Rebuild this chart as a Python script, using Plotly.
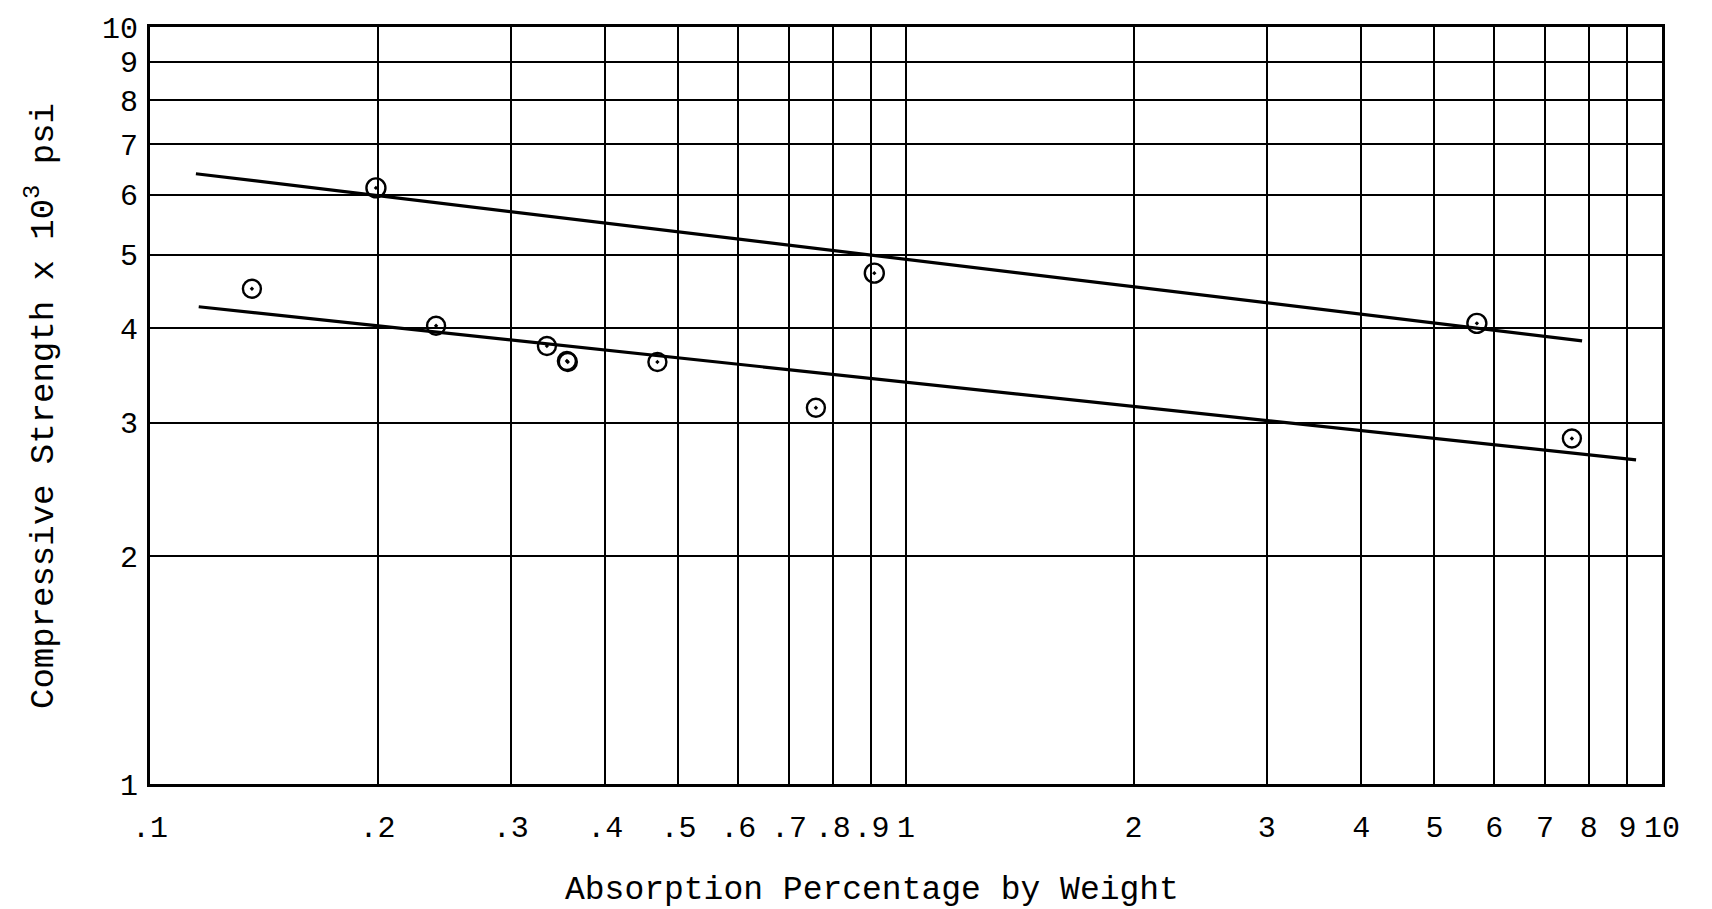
import plotly.graph_objects as go

# Data (log-log)
upper_x = [0.199, 0.908, 5.69]
upper_y = [6.13, 4.73, 4.06]
lower_x = [0.1364, 0.239, 0.335, 0.356, 0.357, 0.469, 0.760, 7.60]
lower_y = [4.51, 4.03, 3.79, 3.62, 3.61, 3.61, 3.14, 2.86]

upper_fit_x = [0.115, 7.84]
upper_fit_y = [6.40, 3.85]
lower_fit_x = [0.116, 9.24]
lower_fit_y = [4.27, 2.68]

x_tickvals = [0.1, 0.2, 0.3, 0.4, 0.5, 0.6, 0.7, 0.8, 0.9, 1, 2, 3, 4, 5, 6, 7, 8, 9, 10]
x_ticktext = [".1", ".2", ".3", ".4", ".5", ".6", ".7", ".8", ".9", "1",
              "2", "3", "4", "5", "6", "7", "8", "9", "10"]
y_tickvals = [1, 2, 3, 4, 5, 6, 7, 8, 9, 10]
y_ticktext = ["1", "2", "3", "4", "5", "6", "7", "8", "9", "10"]

FONT = "Liberation Mono, Courier New, monospace"

fig = go.Figure()
fig.add_trace(go.Scatter(x=upper_fit_x, y=upper_fit_y, mode="lines",
                         line=dict(color="black", width=3.2), showlegend=False))
fig.add_trace(go.Scatter(x=lower_fit_x, y=lower_fit_y, mode="lines",
                         line=dict(color="black", width=3.2), showlegend=False))
fig.add_trace(go.Scatter(x=upper_x, y=upper_y, mode="markers",
                         marker=dict(symbol="circle-open-dot", size=19, color="black",
                                     line=dict(width=2.4, color="black")),
                         showlegend=False))
fig.add_trace(go.Scatter(x=lower_x, y=lower_y, mode="markers",
                         marker=dict(symbol="circle-open-dot", size=18, color="black",
                                     line=dict(width=2.4, color="black")),
                         showlegend=False))

fig.update_layout(
    width=1712, height=909,
    margin=dict(l=150, r=50, t=27, b=125),
    paper_bgcolor="white", plot_bgcolor="white",
    font=dict(family=FONT, color="black", size=30),
    xaxis=dict(type="log", range=[-1, 1], tickvals=x_tickvals, ticktext=x_ticktext,
               showgrid=True, gridcolor="black", gridwidth=1.8,
               showline=True, linecolor="black", linewidth=3, mirror=True,
               ticks="", ticklabelstandoff=14, zeroline=False,
               tickfont=dict(family=FONT, size=30)),
    yaxis=dict(type="log", range=[0, 1], tickvals=y_tickvals, ticktext=y_ticktext,
               showgrid=True, gridcolor="black", gridwidth=1.8,
               showline=True, linecolor="black", linewidth=3, mirror=True,
               ticks="", ticklabelstandoff=3, zeroline=False,
               tickfont=dict(family=FONT, size=30)),
    annotations=[
        dict(text="Absorption Percentage by Weight", xref="paper", yref="paper",
             x=(872 - 150) / 1512, y=-(890 - 784) / 757, xanchor="center", yanchor="middle",
             showarrow=False, font=dict(family=FONT, size=33)),
        dict(text="Compressive Strength x 10<sup>3</sup> psi", xref="paper", yref="paper",
             x=-(150 - 41) / 1512, y=(784 - 406) / 757, xanchor="center", yanchor="middle",
             textangle=-90, showarrow=False, font=dict(family=FONT, size=34)),
    ],
)

fig.write_html("out.html")
